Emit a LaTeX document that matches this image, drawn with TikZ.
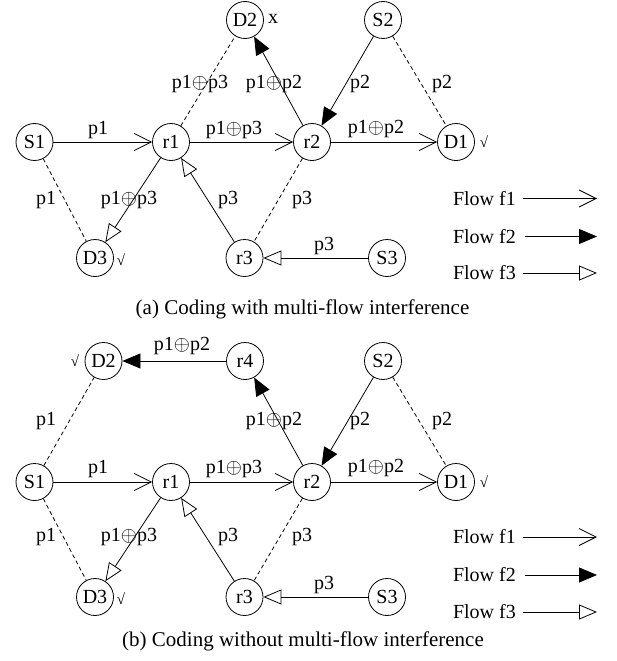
\documentclass[tikz,border=0pt]{standalone}
\usepackage{fontspec}
\setmainfont{Liberation Serif}
\usetikzlibrary{arrows.meta}
\begin{document}
\begin{tikzpicture}[x=1pt,y=-1pt,
 nd/.style={draw,circle,minimum size=37pt,inner sep=0pt,line width=0.8pt,font=\fontsize{20}{24}\selectfont},
 lbl/.style={inner sep=0pt,font=\fontsize{20}{24}\selectfont},
 mk/.style={inner sep=0pt,font=\fontsize{15}{18}\selectfont},
 captxt/.style={inner sep=0pt,font=\fontsize{21}{25}\selectfont},
 ln/.style={line width=0.8pt},
 fa/.style={ln,-{Straight Barb[length=17pt,width=17pt]}},
 fb/.style={ln,-{Triangle[length=18pt,width=15pt]}},
 fc/.style={ln,-{Triangle[open,length=18pt,width=15pt]}},
 dsh/.style={ln,dash pattern=on 4pt off 3pt},
]
\useasboundingbox (0,0) rectangle (616,661);

% ---------------- panel (a) ----------------
\node[nd] (aD2) at (245,20) {D2};
\node[nd] (aS2) at (383,20) {S2};
\node[nd] (aS1) at (34.5,142) {S1};
\node[nd] (ar1) at (171,142) {r1};
\node[nd] (ar2) at (312,142) {r2};
\node[nd] (aD1) at (456,142) {D1};
\node[nd] (aD3) at (95,258) {D3};
\node[nd] (ar3) at (244.5,258) {r3};
\node[nd] (aS3) at (387,258) {S3};

\node[lbl] (ax) at (273,19) {x};
\node[mk] (aD3m) at (121,260) {√};
\node[mk] (aD1m) at (484,142) {√};

\draw[fa] (aS1) -- (ar1);
\draw[fa] (ar1) -- (ar2);
\draw[fa] (ar2) -- (aD1);
\draw[fb] (aS2) -- (ar2);
\draw[fb] (ar2) -- (aD2);
\draw[fc] (aS3) -- (ar3);
\draw[fc] (ar3) -- (ar1);
\draw[fc] (ar1) -- (aD3);
\draw[dsh] (ar1) -- (aD2);
\draw[dsh] (aS1) -- (aD3);
\draw[dsh] (ar2) -- (ar3);
\draw[dsh] (aS2) -- (aD1);

\node[lbl] (al1) at (98,130) {p1};
\node[lbl] (al2) at (234,130) {p1$\oplus$p3};
\node[lbl] (al3) at (376,129) {p1$\oplus$p2};
\node[lbl] (al4) at (200,84) {p1$\oplus$p3};
\node[lbl] (al5) at (274,84) {p1$\oplus$p2};
\node[lbl] (al6) at (360,84) {p2};
\node[lbl] (al7) at (442,84) {p2};
\node[lbl] (al8) at (46,200) {p1};
\node[lbl] (al9) at (129,200) {p1$\oplus$p3};
\node[lbl] (al10) at (228,200) {p3};
\node[lbl] (al11) at (302,200) {p3};
\node[lbl] (al12) at (324,246) {p3};

\node[lbl,anchor=east] (aL1) at (516,198.5) {Flow f1};
\node[lbl,anchor=east] (aL2) at (516,236.5) {Flow f2};
\node[lbl,anchor=east] (aL3) at (516,273) {Flow f3};
\coordinate (aE1) at (597,198.5);
\coordinate (aE2) at (597,236.5);
\coordinate (aE3) at (597,273);
\draw[fa] ([xshift=7pt]aL1.east) -- (aE1);
\draw[fb] ([xshift=9pt]aL2.east) -- (aE2);
\draw[fc] ([xshift=7pt]aL3.east) -- (aE3);

\node[captxt] (acap) at (302.5,309) {(a) Coding with multi-flow interference};

% ---------------- panel (b) ----------------
\begin{scope}[yshift=-340pt]
\node[nd] (bD2) at (103.5,21) {D2};
\node[nd] (br4) at (245,21) {r4};
\node[nd] (bS2) at (383,21) {S2};
\node[nd] (bS1) at (34.5,142) {S1};
\node[nd] (br1) at (171,142) {r1};
\node[nd] (br2) at (312,142) {r2};
\node[nd] (bD1) at (456,142) {D1};
\node[nd] (bD3) at (95,257) {D3};
\node[nd] (br3) at (244.5,257) {r3};
\node[nd] (bS3) at (387,257) {S3};

\node[mk] (bD2m) at (75,21) {√};
\node[mk] (bD3m) at (121,259) {√};
\node[mk] (bD1m) at (484,142) {√};

\draw[fa] (bS1) -- (br1);
\draw[fa] (br1) -- (br2);
\draw[fa] (br2) -- (bD1);
\draw[fb] (bS2) -- (br2);
\draw[fb] (br2) -- (br4);
\draw[fb] (br4) -- (bD2);
\draw[fc] (bS3) -- (br3);
\draw[fc] (br3) -- (br1);
\draw[fc] (br1) -- (bD3);
\draw[dsh] (bS1) -- (bD2);
\draw[dsh] (bS1) -- (bD3);
\draw[dsh] (br2) -- (br3);
\draw[dsh] (bS2) -- (bD1);

\node[lbl] (bl0) at (182,6) {p1$\oplus$p2};
\node[lbl] (bl1) at (98,129) {p1};
\node[lbl] (bl2) at (234,129) {p1$\oplus$p3};
\node[lbl] (bl3) at (376,128) {p1$\oplus$p2};
\node[lbl] (bl4) at (46,81) {p1};
\node[lbl] (bl5) at (274,81) {p1$\oplus$p2};
\node[lbl] (bl6) at (360,81) {p2};
\node[lbl] (bl7) at (442,81) {p2};
\node[lbl] (bl8) at (46,197) {p1};
\node[lbl] (bl9) at (129,197) {p1$\oplus$p3};
\node[lbl] (bl10) at (228,197) {p3};
\node[lbl] (bl11) at (302,197) {p3};
\node[lbl] (bl12) at (324,245) {p3};

\node[lbl,anchor=east] (bL1) at (516,197) {Flow f1};
\node[lbl,anchor=east] (bL2) at (516,235) {Flow f2};
\node[lbl,anchor=east] (bL3) at (516,272) {Flow f3};
\coordinate (bE1) at (597,197);
\coordinate (bE2) at (597,235);
\coordinate (bE3) at (597,272);
\draw[fa] ([xshift=7pt]bL1.east) -- (bE1);
\draw[fb] ([xshift=9pt]bL2.east) -- (bE2);
\draw[fc] ([xshift=7pt]bL3.east) -- (bE3);
\end{scope}

\node[captxt] (bcap) at (303,641) {(b) Coding without multi-flow interference};
\end{tikzpicture}
\end{document}
